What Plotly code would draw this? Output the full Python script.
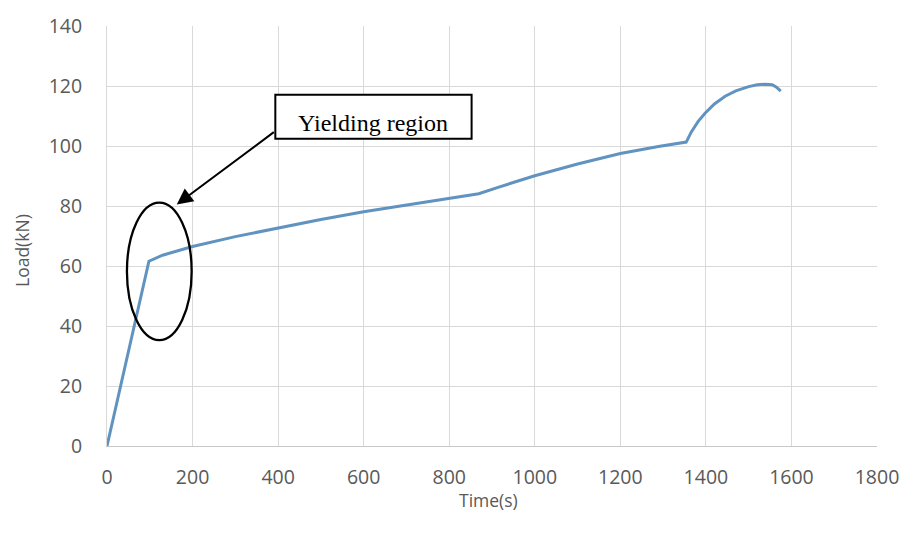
import plotly.graph_objects as go

# Load history of the tensile test
time_s = [0, 98, 130, 170, 200, 300, 400, 500, 600, 700, 800, 869, 916, 1000,
          1100, 1200, 1289, 1354, 1366, 1382, 1398, 1420, 1445, 1470, 1500,
          1520, 1538, 1555, 1565, 1575]
load_kn = [0, 61.6, 63.6, 65.3, 66.5, 69.8, 72.7, 75.5, 78.1, 80.4, 82.5, 84.1,
           86.3, 90.1, 94.0, 97.5, 99.8, 101.3, 104.7, 108.2, 110.9, 114.0,
           116.6, 118.4, 119.8, 120.4, 120.6, 120.4, 119.6, 118.3]

x_ticks = [0, 200, 400, 600, 800, 1000, 1200, 1400, 1600, 1800]
y_ticks = [0, 20, 40, 60, 80, 100, 120, 140]

# Callout: ellipse around the yield point, labelled box and arrow
ellipse_x = [46.6, 197.9]
ellipse_y = [35.3, 81.1]
box_x = [393.5, 852.3]
box_y = [102.4, 117.1]
arrow_from = (393.5, 105.0)
arrow_to = (163.0, 80.5)
callout_text = "Yielding region"

tick_font = dict(family="Open Sans, Liberation Sans, sans-serif", size=19.5, color="#595959")
grid = "#d9d9d9"

fig = go.Figure()
fig.add_trace(go.Scatter(
    x=time_s, y=load_kn, mode="lines",
    line=dict(color="#6093c0", width=3),
    hoverinfo="x+y", showlegend=False,
))

fig.update_xaxes(
    range=[0, 1800], tickvals=x_ticks, showgrid=True, gridcolor=grid, gridwidth=1,
    zeroline=False, showline=True, linecolor="#c8c8c8", linewidth=1, mirror=False,
    ticks="", tickfont=tick_font, ticklabelstandoff=14, fixedrange=True,
)
fig.update_yaxes(
    range=[0, 140], tickvals=y_ticks, showgrid=True, gridcolor=grid, gridwidth=1,
    zeroline=False, showline=True, linecolor=grid, linewidth=1,
    ticks="", tickfont=tick_font, ticklabelstandoff=20, fixedrange=True,
)

fig.add_shape(type="circle", xref="x", yref="y",
              x0=ellipse_x[0], x1=ellipse_x[1], y0=ellipse_y[0], y1=ellipse_y[1],
              line=dict(color="black", width=2.3), fillcolor="rgba(0,0,0,0)", layer="above")
fig.add_shape(type="rect", xref="x", yref="y",
              x0=box_x[0], x1=box_x[1], y0=box_y[0], y1=box_y[1],
              line=dict(color="black", width=2), fillcolor="white", layer="above")
fig.add_annotation(
    x=(box_x[0] + box_x[1]) / 2, y=(box_y[0] + box_y[1]) / 2, xref="x", yref="y",
    text=callout_text, showarrow=False, yshift=-6,
    font=dict(family="Liberation Serif, Times New Roman, serif", size=24, color="black"),
)
fig.add_annotation(
    x=arrow_to[0], y=arrow_to[1], ax=arrow_from[0], ay=arrow_from[1],
    xref="x", yref="y", axref="x", ayref="y", text="", showarrow=True,
    arrowhead=2, arrowsize=1.6, arrowwidth=2, arrowcolor="black",
)

title_font = dict(family="Open Sans, Liberation Sans, sans-serif", size=17.5, color="#595959")
fig.add_annotation(text="Time(s)", xref="paper", yref="paper", x=0.4955, y=-0.128,
                   xanchor="center", yanchor="middle", showarrow=False, font=title_font)
fig.add_annotation(text="Load(kN)", xref="paper", yref="paper", x=-0.1113, y=0.465,
                   xanchor="center", yanchor="middle", showarrow=False, textangle=-90,
                   font=title_font)

fig.update_layout(
    width=911, height=535,
    margin=dict(l=107, r=31, t=18, b=89),
    paper_bgcolor="white", plot_bgcolor="white",
)

fig.write_html("out.html")
